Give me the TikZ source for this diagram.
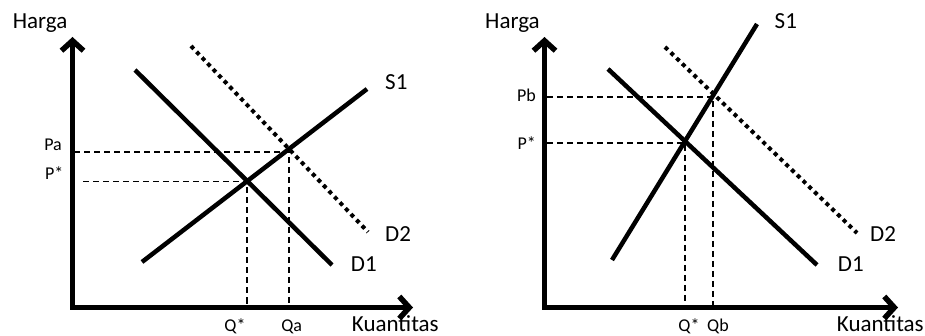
\documentclass[tikz,border=0pt]{standalone}
\usepackage{fontspec}
\setmainfont{Carlito}
\usetikzlibrary{arrows.meta}

\begin{document}
\begin{tikzpicture}[
    x=1pt, y=-1pt,
    axis/.style={line width=5.5pt, line join=miter,
        {Straight Barb[length=10pt,width=22pt]}-{Straight Barb[length=10pt,width=22pt]}},
    curve/.style={line width=4.5pt},
    shifted/.style={line width=4pt, dash pattern=on 4pt off 4pt},
    guide/.style={line width=1.2pt, dash pattern=on 6pt off 4pt},
    biglabel/.style={font=\fontsize{23}{27}\selectfont, inner sep=0pt},
    smalllabel/.style={font=\fontsize{18}{22}\selectfont, inner sep=0pt}
]
    \useasboundingbox (0,0) rectangle (925,336);

    % Left panel: demand shifts, supply S1 flat
    \coordinate (O1) at (72.5,307.5);
    \coordinate (Y1) at (72.5,37);
    \coordinate (X1) at (413,307.5);
    \coordinate (D1a) at (135,70);   \coordinate (D1b) at (332,265);
    \coordinate (S1a) at (142,262);  \coordinate (S1b) at (367,89);
    \coordinate (D2a) at (191,46);   \coordinate (D2b) at (368,232);
    \coordinate (E1) at (247,181.5);
    \coordinate (A1) at (289,152);
    \coordinate (Ps1) at (83,181.5);
    \coordinate (Pa1) at (74,152);

    % Guides to the axes
    \draw[guide] (Ps1) -- (E1) -- (E1 |- O1);
    \draw[guide] (Pa1) -- (A1) -- (A1 |- O1);

    % Curves
    \draw[curve] (D1a) -- (D1b);
    \draw[curve] (S1a) -- (S1b);
    \draw[shifted] (D2a) -- (D2b);

    % Axes
    \draw[axis] (Y1) -- (O1) -- (X1);

    % Labels
    \node[biglabel, anchor=base west] (harga1) at (12.7,28.3) {Harga};
    \node[biglabel, anchor=base west] (kuant1) at (351.7,331) {Kuantitas};
    \node[biglabel, anchor=base west] (s1l) at (385,90) {S1};
    \node[biglabel, anchor=base west] (d2l) at (385,241.7) {D2};
    \node[biglabel, anchor=base west] (d1l) at (350.7,271.7) {D1};
    \node[smalllabel, anchor=base east] (pa) at (62,150.7) {Pa};
    \node[smalllabel, anchor=base east] (ps1) at (63.5,180) {P*};
    \node[smalllabel, anchor=base] (qs1) at (235,331) {Q*};
    \node[smalllabel, anchor=base] (qa) at (291.7,331) {Qa};

    % Right panel: demand shifts, supply S1 steep
    \coordinate (O2) at (544.5,307.5);
    \coordinate (Y2) at (544.5,37);
    \coordinate (X2) at (898,307.5);
    \coordinate (D1c) at (608,69);   \coordinate (D1d) at (817,265);
    \coordinate (S1c) at (612,260);  \coordinate (S1d) at (757,24);
    \coordinate (D2c) at (665,47);   \coordinate (D2d) at (857,233);
    \coordinate (E2) at (685,143);
    \coordinate (B2) at (713,97);
    \coordinate (Ps2) at (547,143);
    \coordinate (Pb2) at (547,97);

    % Guides to the axes
    \draw[guide] (Ps2) -- (E2) -- (E2 |- O2);
    \draw[guide] (Pb2) -- (B2) -- (B2 |- O2);

    % Curves
    \draw[curve] (D1c) -- (D1d);
    \draw[curve] (S1c) -- (S1d);
    \draw[shifted] (D2c) -- (D2d);

    % Axes
    \draw[axis] (Y2) -- (O2) -- (X2);

    % Labels
    \node[biglabel, anchor=base west] (harga2) at (485,28.3) {Harga};
    \node[biglabel, anchor=base west] (kuant2) at (836.7,331) {Kuantitas};
    \node[biglabel, anchor=base west] (s1r) at (774.5,29) {S1};
    \node[biglabel, anchor=base west] (d2r) at (870,241.7) {D2};
    \node[biglabel, anchor=base west] (d1r) at (837.7,271.7) {D1};
    \node[smalllabel, anchor=base east] (pb) at (536,101.7) {Pb};
    \node[smalllabel, anchor=base east] (ps2) at (536,150) {P*};
    \node[smalllabel, anchor=base] (qs2) at (689,331) {Q*};
    \node[smalllabel, anchor=base] (qb) at (718,331) {Qb};

\end{tikzpicture}
\end{document}
